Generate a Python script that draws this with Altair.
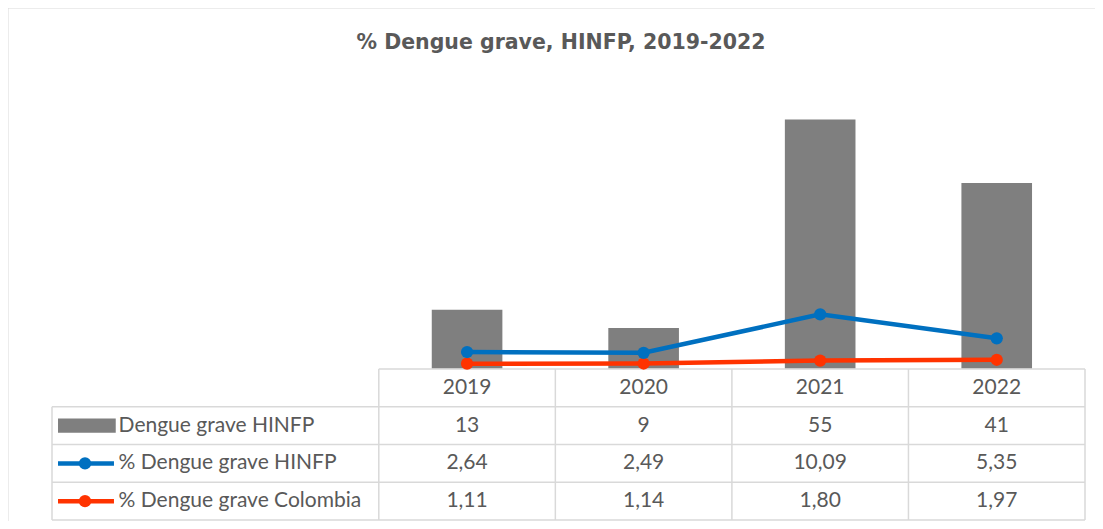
import altair as alt
import pandas as pd

# ---------------- data ----------------
years = ["2019", "2020", "2021", "2022"]
casos_hinfp = [13, 9, 55, 41]
pct_hinfp = [2.64, 2.49, 10.09, 5.35]
pct_colombia = [1.11, 1.14, 1.80, 1.97]
series_names = ["Dengue grave HINFP", "% Dengue grave HINFP", "% Dengue grave Colombia"]
title_text = "% Dengue grave, HINFP, 2019-2022"

# ---------------- styles / layout ----------------
W, H = 1087, 513
FONT = "Lato"
TXT = "#595959"
GRID = "#d9d9d9"
BAR_C = "#7f7f7f"
BLUE = "#0070c0"
RED = "#ff3300"
LW = 4.5
DOT = 150
FS = 21

xs = alt.Scale(domain=[0, 4], range=[370.8, 1077.0], nice=False, zero=False)
ys_table = alt.Scale(domain=[0, 4], range=[361, 512], nice=False, zero=False)
ys_bar = alt.Scale(domain=[0, 60], range=[360.7, 88.9], nice=False, zero=False)
ys_blue = alt.Scale(domain=[0, 10], range=[357.4, 306.8], nice=False, zero=False)
LEG_LEFT = -1.851
LEG_TEXT = -1.474
KEY_X0, KEY_X1, KEY_DOT = -1.817, -1.500, -1.664


def fmt(v, dec):
    return f"{v:.{dec}f}".replace(".", ",")


n = len(years)
df = pd.DataFrame({
    "year": years,
    "casos": casos_hinfp,
    "hinfp": pct_hinfp,
    "col": pct_colombia,
})
df["c"] = [i + 0.5 for i in range(n)]
df["x0"] = [i + 0.3 for i in range(n)]
df["x1"] = [i + 0.7 for i in range(n)]

# table cells
cells = []
for i in range(n):
    cells.append({"x": i + 0.5, "r": 0.5, "t": years[i]})
    cells.append({"x": i + 0.5, "r": 1.5, "t": str(casos_hinfp[i])})
    cells.append({"x": i + 0.5, "r": 2.5, "t": fmt(pct_hinfp[i], 2)})
    cells.append({"x": i + 0.5, "r": 3.5, "t": fmt(pct_colombia[i], 2)})
cells_df = pd.DataFrame(cells)

leg_df = pd.DataFrame({"x": [LEG_TEXT] * 3, "r": [1.5, 2.5, 3.5], "t": series_names})

# grid lines
hlines = [{"x": 0, "x2": n, "r": 0}] + [{"x": LEG_LEFT, "x2": n, "r": r} for r in range(1, 5)]
vlines = [{"x": i, "r": 0, "r2": 4} for i in range(n + 1)] + [{"x": LEG_LEFT, "r": 1, "r2": 4}]
hl_df = pd.DataFrame(hlines)
vl_df = pd.DataFrame(vlines)

X = lambda f: alt.X(f, type="quantitative", scale=xs, axis=None)
X2 = lambda f: alt.X2(f)

# ---------------- layers ----------------
one = pd.DataFrame({"k": [0]})
frame_top = alt.Chart(one).mark_rule(color=GRID, strokeWidth=2).encode(
    x=alt.value(-1), x2=alt.value(W + 20), y=alt.value(-0.5))
frame_left = alt.Chart(one).mark_rule(color=GRID, strokeWidth=2).encode(
    x=alt.value(-0.5), y=alt.value(-1), y2=alt.value(H + 20))

bars = alt.Chart(df).mark_bar(color=BAR_C).encode(
    x=X("x0"), x2=X2("x1"),
    y=alt.Y("casos:Q", scale=ys_bar, axis=None), y2=alt.datum(0),
)

red_line = alt.Chart(df).mark_line(color=RED, strokeWidth=LW).encode(
    x=X("c"), y=alt.Y("col:Q", scale=ys_bar, axis=None))
red_pts = alt.Chart(df).mark_point(color=RED, filled=True, opacity=1, size=DOT).encode(
    x=X("c"), y=alt.Y("col:Q", scale=ys_bar, axis=None))

blue_line = alt.Chart(df).mark_line(color=BLUE, strokeWidth=LW).encode(
    x=X("c"), y=alt.Y("hinfp:Q", scale=ys_blue, axis=None))
blue_pts = alt.Chart(df).mark_point(color=BLUE, filled=True, opacity=1, size=DOT).encode(
    x=X("c"), y=alt.Y("hinfp:Q", scale=ys_blue, axis=None))

hgrid = alt.Chart(hl_df).mark_rule(color=GRID, strokeWidth=1.5).encode(
    x=X("x"), x2=X2("x2"), y=alt.Y("r:Q", scale=ys_table, axis=None))
vgrid = alt.Chart(vl_df).mark_rule(color=GRID, strokeWidth=1.5).encode(
    x=X("x"), y=alt.Y("r:Q", scale=ys_table, axis=None), y2=alt.Y2("r2"))

cell_text = alt.Chart(cells_df).mark_text(
    font=FONT, fontSize=FS, color=TXT, align="center", baseline="middle").encode(
    x=X("x"), y=alt.Y("r:Q", scale=ys_table, axis=None), text="t:N")

leg_text = alt.Chart(leg_df).mark_text(
    font=FONT, fontSize=FS, color=TXT, align="left", baseline="middle").encode(
    x=X("x"), y=alt.Y("r:Q", scale=ys_table, axis=None), text="t:N")

key_bar_df = pd.DataFrame({"x": [KEY_X0], "x2": [KEY_X1 + 0.01], "r": [1.31], "r2": [1.69]})
key_bar = alt.Chart(key_bar_df).mark_rect(color=BAR_C).encode(
    x=X("x"), x2=X2("x2"), y=alt.Y("r:Q", scale=ys_table, axis=None), y2=alt.Y2("r2"))

key_line_df = pd.DataFrame({
    "x": [KEY_X0, KEY_X0], "x2": [KEY_X1, KEY_X1], "xd": [KEY_DOT, KEY_DOT],
    "r": [2.5, 3.5], "s": series_names[1:],
})
key_color = alt.Color("s:N", scale=alt.Scale(domain=series_names[1:], range=[BLUE, RED]), legend=None)
key_lines = alt.Chart(key_line_df).mark_rule(strokeWidth=LW).encode(
    x=X("x"), x2=X2("x2"), y=alt.Y("r:Q", scale=ys_table, axis=None), color=key_color)
key_dots = alt.Chart(key_line_df).mark_point(filled=True, opacity=1, size=DOT).encode(
    x=X("xd"), y=alt.Y("r:Q", scale=ys_table, axis=None), color=key_color)

title = alt.Chart(pd.DataFrame({"t": [title_text]})).mark_text(
    font="DejaVu Sans", fontSize=20.5, fontWeight="bold", color=TXT, align="center",
    baseline="alphabetic").encode(
    x=alt.value(553), y=alt.value(41), text="t:N")

chart = alt.layer(
    frame_top, frame_left,
    bars, hgrid, vgrid, red_line, red_pts, blue_line, blue_pts,
    cell_text, leg_text, key_bar, key_lines, key_dots, title,
).resolve_scale(y="independent", color="independent").properties(
    width=W, height=H, padding=0,
    autosize=alt.AutoSizeParams(type="none"),
).configure_view(stroke=None)

chart.save("out.html", embed_options={"renderer": "svg", "actions": False})
